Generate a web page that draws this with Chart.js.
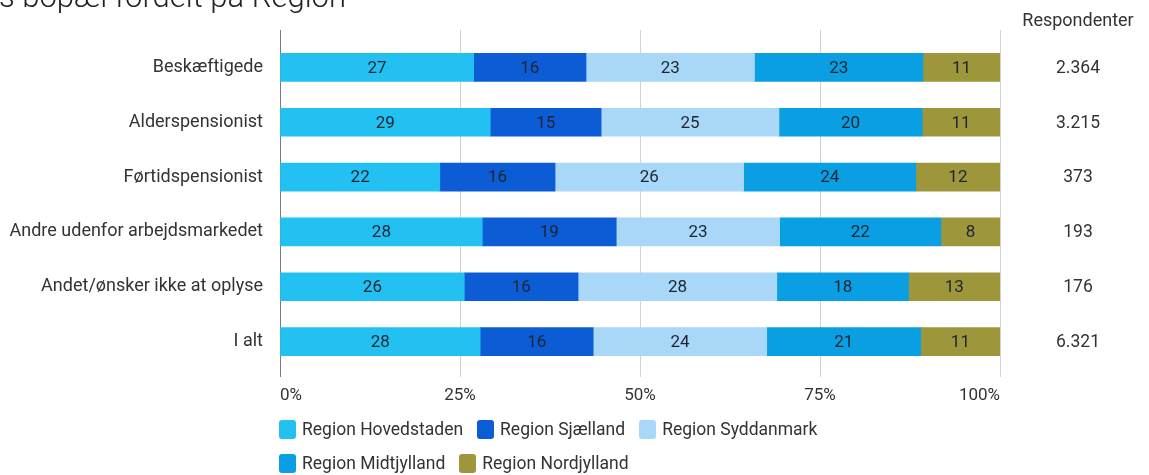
<!DOCTYPE html>
<html>
<head>
<meta charset="utf-8">
<script src="https://cdn.jsdelivr.net/npm/chart.js@4.4.1/dist/chart.umd.min.js"></script>
<style>
html,body{margin:0;padding:0;background:#fff;}
#wrap{position:relative;width:1149px;height:475px;overflow:hidden;}
#legend{position:absolute;left:279px;top:412px;width:600px;display:flex;flex-wrap:wrap;
  font-family:Roboto,"Noto Sans",sans-serif;font-size:17.5px;color:#333;}
#legend .it{display:flex;align-items:center;height:34px;margin-right:14px;white-space:nowrap;}
#legend .bx{width:17px;height:19px;border-radius:3px;margin-right:6px;}
</style>
</head>
<body>
<div id="wrap"><canvas id="c" width="1149" height="475"></canvas><div id="legend"></div></div>
<script>
const categories = ['Beskæftigede','Alderspensionist','Førtidspensionist','Andre udenfor arbejdsmarkedet','Andet/ønsker ikke at oplyse','I alt'];
const hovedstaden = [26.9, 29.2, 22.2, 28.1, 25.6, 27.8];
const sjaelland   = [15.6, 15.4, 16.0, 18.6, 15.8, 15.7];
const syddanmark  = [23.4, 24.7, 26.2, 22.7, 27.6, 24.1];
const midtjylland = [23.4, 19.9, 23.9, 22.4, 18.3, 21.4];
const nordjylland = [10.7, 10.8, 11.7, 8.2, 12.7, 11.0];
const respondenter = ['2.364','3.215','373','193','176','6.321'];
const xTicks = [0, 25, 50, 75, 100];
const seriesNames = ['Region Hovedstaden','Region Sjælland','Region Syddanmark','Region Midtjylland','Region Nordjylland'];
const titleText = 's bopæl fordelt på Region';
const respHeader = 'Respondenter';

const FONT = 'Roboto, "Noto Sans", sans-serif';

const extras = {
  id: 'extras',
  beforeDatasetsDraw(chart) {
    const ctx = chart.ctx, xs = chart.scales.x, ca = chart.chartArea;
    ctx.save();
    ctx.lineWidth = 1;
    xTicks.forEach(v => {
      const x = Math.round(xs.getPixelForValue(v)) + 0.5;
      ctx.strokeStyle = v === 0 ? '#7a7a7a' : '#d2d2d2';
      ctx.beginPath(); ctx.moveTo(x, 30); ctx.lineTo(x, ca.top); ctx.stroke();
    });
    ctx.restore();
  },
  afterDatasetsDraw(chart) {
    const ctx = chart.ctx;
    ctx.save();
    ctx.font = '17px ' + FONT;
    ctx.fillStyle = '#1d2532';
    ctx.textAlign = 'center';
    ctx.textBaseline = 'middle';
    chart.data.datasets.forEach((ds, di) => {
      const meta = chart.getDatasetMeta(di);
      meta.data.forEach((el, i) => {
        const cx = (el.x + el.base) / 2;
        ctx.fillText(String(Math.round(ds.data[i])), cx, el.y + 1);
      });
    });
    const ys = chart.scales.y;
    ctx.fillStyle = '#333';
    ctx.font = '17.5px ' + FONT;
    respondenter.forEach((t, i) => {
      ctx.fillText(t, 1078, ys.getPixelForValue(i) + 1);
    });
    ctx.font = '18px ' + FONT;
    ctx.fillText(respHeader, 1078, 21);
    ctx.font = '300 31px ' + FONT;
    ctx.fillStyle = '#222';
    ctx.textAlign = 'left';
    ctx.textBaseline = 'alphabetic';
    ctx.fillText(titleText, -1, 7);
    ctx.restore();
  }
};

const colors = ['#22c1f1', '#0b5cd5', '#a8d7f7', '#0a9fe2', '#9e963a'];
const series = [hovedstaden, sjaelland, syddanmark, midtjylland, nordjylland];

const chart = new Chart(document.getElementById('c'), {
  type: 'bar',
  data: {
    labels: categories,
    datasets: series.map((d, i) => ({
      label: seriesNames[i],
      data: d,
      backgroundColor: colors[i],
      borderWidth: 0,
      barThickness: 28
    }))
  },
  options: {
    indexAxis: 'y',
    responsive: false,
    animation: false,
    devicePixelRatio: 1,
    layout: { padding: { top: 40, right: 149, left: 0, bottom: 66 } },
    scales: {
      x: {
        stacked: true, min: 0, max: 100,
        afterBuildTicks(scale) { scale.ticks = xTicks.map(v => ({ value: v })); },
        afterFit(scale) { scale.height = 40; },
        grid: {
          color: c => (c.tick && c.tick.value === 0) ? '#7a7a7a' : '#d2d2d2',
          tickLength: 8, drawTicks: true
        },
        border: { display: false },
        ticks: {
          callback: v => v + '%',
          font: { family: FONT, size: 17 }, color: '#333', padding: 9,
          maxRotation: 0, align: 'inner'
        }
      },
      y: {
        stacked: true,
        grid: { display: false, drawTicks: false },
        border: { display: false },
        afterFit(scale) { scale.width = 280; },
        ticks: { font: { family: FONT, size: 18 }, color: '#333', padding: 17 }
      }
    },
    plugins: {
      legend: { display: false },
      tooltip: { enabled: false },
      title: { display: false }
    }
  },
  plugins: [extras]
});

const lg = document.getElementById('legend');
chart.data.datasets.forEach(ds => {
  const it = document.createElement('div'); it.className = 'it';
  const bx = document.createElement('span'); bx.className = 'bx'; bx.style.background = ds.backgroundColor;
  const tx = document.createElement('span'); tx.textContent = ds.label;
  it.appendChild(bx); it.appendChild(tx); lg.appendChild(it);
});
</script>
</body>
</html>
